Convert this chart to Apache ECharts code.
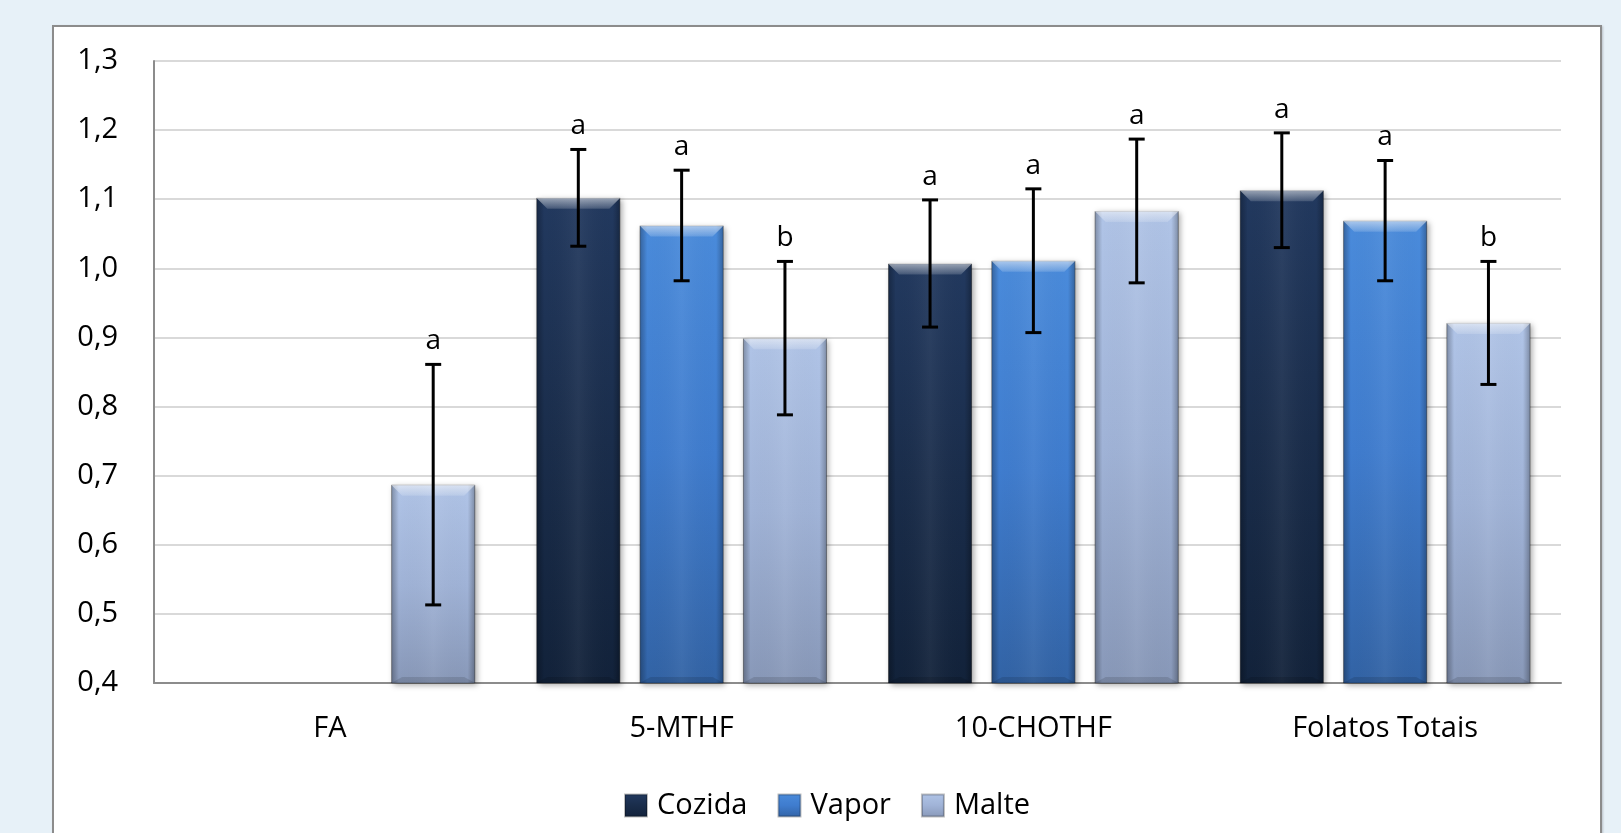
<!DOCTYPE html>
<html>
<head>
<meta charset="utf-8">
<script src="https://cdn.jsdelivr.net/npm/echarts@6/dist/echarts.min.js"></script>
<style>
  html, body { margin: 0; padding: 0; width: 1621px; height: 833px; overflow: hidden; background: #e7f1f8; }
  #panel { position: absolute; left: 52px; top: 25px; width: 1546px; height: 900px; background: #ffffff; border: 2px solid #8c8c8c; box-shadow: 1px 1px 2px rgba(0,0,0,0.2); }
  #chart { position: absolute; left: 0; top: 0; width: 1621px; height: 833px; }
</style>
</head>
<body>
<div id="panel"></div>
<div id="chart"></div>
<script>
// ---- data ----
const categories = ['FA', '5-MTHF', '10-CHOTHF', 'Folatos Totais'];
const seriesNames = ['Cozida', 'Vapor', 'Malte'];

const cozida = [null, 1.102, 1.007, 1.113];
const cozidaErr = [null, 0.070, 0.092, 0.083];
const cozidaLetters = [null, 'a', 'a', 'a'];

const vapor = [null, 1.062, 1.011, 1.069];
const vaporErr = [null, 0.080, 0.104, 0.087];
const vaporLetters = [null, 'a', 'a', 'a'];

const malte = [0.687, 0.899, 1.083, 0.921];
const malteErr = [0.174, 0.111, 0.104, 0.089];
const malteLetters = ['a', 'b', 'a', 'b'];

const yMin = 0.4, yMax = 1.3, yStep = 0.1;

// ---- styling ----
const FONT = '"Open Sans", "Noto Sans", sans-serif';
const FS = 29;
const FS_LETTER = 28;
const BAR_W = 84;
const BAR_GAP = 0.23;
const STEP = BAR_W * (1 + BAR_GAP);

const colors = [
  ['#22395f', '#1a2d4b', '#12223a'],
  ['#4a8bdb', '#3f7cce', '#3263a5'],
  ['#b0c4e7', '#a0b3d7', '#8898b8']
];

function barGradient(c) {
  return new echarts.graphic.LinearGradient(0, 0, 0, 1, [
    { offset: 0, color: c[0] },
    { offset: 0.5, color: c[1] },
    { offset: 1, color: c[2] }
  ]);
}

const values = [cozida, vapor, malte];
const errs = [cozidaErr, vaporErr, malteErr];
const letters = [cozidaLetters, vaporLetters, malteLetters];

const barSeries = seriesNames.map((name, s) => ({
  name: name,
  type: 'bar',
  data: values[s],
  barWidth: BAR_W,
  barGap: (BAR_GAP * 100) + '%',
  z: 2,
  itemStyle: {
    color: barGradient(colors[s]),
    borderColor: 'rgba(0,0,0,0.25)',
    borderWidth: 1,
    shadowBlur: 6,
    shadowColor: 'rgba(0,0,0,0.35)',
    shadowOffsetX: 2,
    shadowOffsetY: 2
  }
}));

const overlaySeries = seriesNames.map((name, s) => {
  const data = [];
  values[s].forEach((v, c) => {
    if (v !== null) data.push([c, v, errs[s][c], s]);
  });
  return {
    type: 'custom',
    name: name + '-overlay',
    z: 5,
    silent: true,
    encode: { x: 0, y: 1 },
    data: data,
    renderItem: function (params, api) {
      const c = api.value(0), v = api.value(1), e = api.value(2), si = api.value(3);
      const base = api.coord([c, v]);
      const bottom = api.coord([c, yMin])[1];
      const cx = base[0] + (si - 1) * STEP;
      const x0 = cx - BAR_W / 2, x1 = cx + BAR_W / 2, y0 = base[1];
      const yTop = api.coord([c, v + e])[1];
      const yBot = api.coord([c, v - e])[1];
      const bev = 11;
      const letter = letters[si][c];
      return {
        type: 'group',
        children: [
          { type: 'rect', shape: { x: x0, y: y0, width: BAR_W, height: bottom - y0 },
            style: { fill: new echarts.graphic.LinearGradient(0, 0, 1, 0, [
              { offset: 0, color: 'rgba(0,0,0,0.28)' },
              { offset: 0.09, color: 'rgba(0,0,0,0.0)' },
              { offset: 0.5, color: 'rgba(255,255,255,0.05)' },
              { offset: 0.91, color: 'rgba(0,0,0,0.0)' },
              { offset: 1, color: 'rgba(0,0,0,0.28)' }
            ]) } },
          { type: 'polygon', shape: { points: [[x0, y0], [x1, y0], [x1 - bev, y0 + bev], [x0 + bev, y0 + bev]] },
            style: { fill: new echarts.graphic.LinearGradient(0, 0, 0, 1, [
              { offset: 0, color: 'rgba(255,255,255,0.55)' },
              { offset: 1, color: 'rgba(255,255,255,0.15)' }
            ]) } },
          { type: 'polygon', shape: { points: [[x0, bottom], [x1, bottom], [x1 - bev, bottom - 6], [x0 + bev, bottom - 6]] },
            style: { fill: 'rgba(0,0,0,0.12)' } },
          { type: 'line', shape: { x1: cx, y1: yTop, x2: cx, y2: yBot }, style: { stroke: '#000', lineWidth: 3 } },
          { type: 'line', shape: { x1: cx - 8, y1: yTop, x2: cx + 8, y2: yTop }, style: { stroke: '#000', lineWidth: 3 } },
          { type: 'line', shape: { x1: cx - 8, y1: yBot, x2: cx + 8, y2: yBot }, style: { stroke: '#000', lineWidth: 3 } },
          { type: 'text', style: { text: letter || '', x: cx, y: yTop - 9, align: 'center', verticalAlign: 'bottom',
            font: FS_LETTER + 'px ' + FONT, fill: '#000' } }
        ]
      };
    }
  };
});

const chart = echarts.init(document.getElementById('chart'), null, { renderer: 'canvas' });
chart.setOption({
  animation: false,
  backgroundColor: 'transparent',
  textStyle: { fontFamily: FONT },
  grid: { left: 154, top: 61, right: 60, bottom: 150, containLabel: false },
  legend: {
    data: seriesNames,
    left: 619,
    top: 786,
    itemWidth: 22,
    itemHeight: 22,
    itemGap: 30,
    icon: 'rect',
    textStyle: { fontSize: FS, color: '#000', fontFamily: FONT, padding: [0, 0, 0, 5] }
  },
  xAxis: {
    type: 'category',
    data: categories,
    axisLine: { lineStyle: { color: '#8c8c8c', width: 2 } },
    axisTick: { show: false },
    axisLabel: { fontSize: FS, color: '#000', margin: 31, fontFamily: FONT },
    splitLine: { show: false }
  },
  yAxis: {
    type: 'value',
    min: yMin,
    max: yMax,
    interval: yStep,
    axisLine: { show: true, lineStyle: { color: '#8c8c8c', width: 2 } },
    axisTick: { show: false },
    axisLabel: { fontSize: FS, color: '#000', margin: 36, fontFamily: FONT,
      formatter: v => v.toFixed(1).replace('.', ',') },
    splitLine: { lineStyle: { color: '#d9d9d9', width: 2 } }
  },
  series: barSeries.concat(overlaySeries)
});
</script>
</body>
</html>
